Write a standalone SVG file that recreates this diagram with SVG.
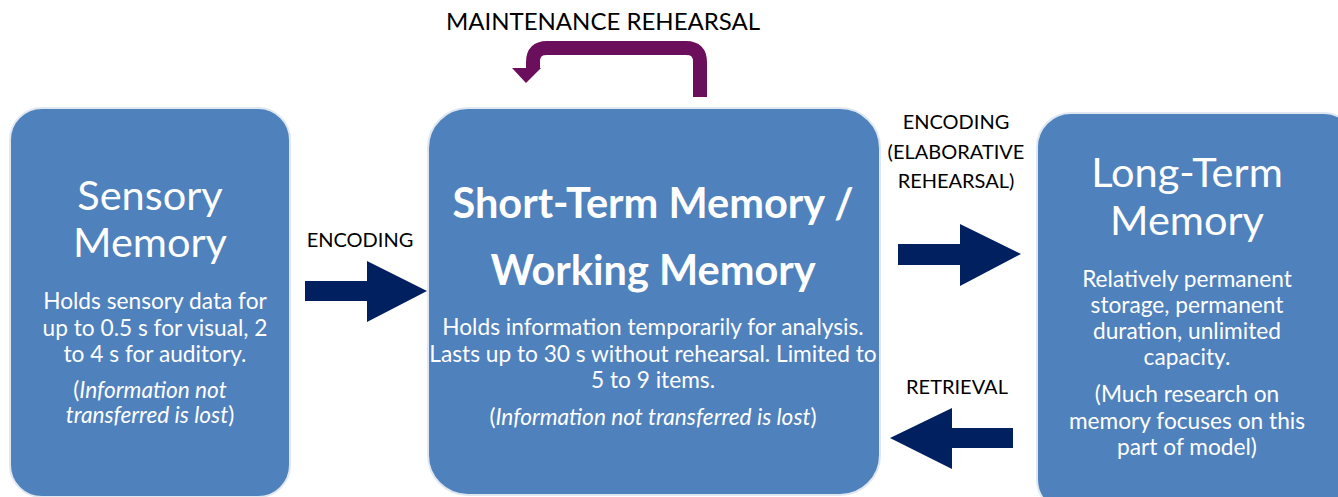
<svg xmlns="http://www.w3.org/2000/svg" width="1338" height="497" viewBox="0 0 1338 497">
<style>
.box{fill:#4F81BD;stroke:#dfe7f1;stroke-width:2}
.t{font-family:Lato,"Open Sans","Liberation Sans",sans-serif;text-anchor:middle}
.w{fill:#ffffff}
.k{fill:#000000}
.title{font-size:41.5px}
.body{font-size:22.7px}
.lbl{font-size:20px}
.arr{fill:#002060}
</style>
<rect width="1338" height="497" fill="#ffffff"/>
<g id="sensory">
<rect class="box" x="10" y="108" width="280" height="389" rx="32"/>
<text class="t w title" x="150" y="210">Sensory</text>
<text class="t w title" x="150" y="257">Memory</text>
<text class="t w body" x="155" y="309">Holds sensory data for</text>
<text class="t w body" x="155" y="336">up to 0.5 s for visual, 2</text>
<text class="t w body" x="155" y="362">to 4 s for auditory.</text>
<text class="t w body" x="150" y="398">(<tspan font-style="italic">Information not</tspan></text>
<text class="t w body" x="150" y="423"><tspan font-style="italic">transferred is lost</tspan>)</text>
</g>
<g id="stm">
<rect class="box" x="428" y="108" width="452" height="387" rx="40"/>
<text class="t w title" x="653" y="218" font-weight="bold" font-size="42.5">Short-Term Memory /</text>
<text class="t w title" x="653" y="285" font-weight="bold" font-size="42.5">Working Memory</text>
<text class="t w body" x="653" y="335">Holds information temporarily for analysis.</text>
<text class="t w body" x="653" y="362">Lasts up to 30 s without rehearsal. Limited to</text>
<text class="t w body" x="653" y="388">5 to 9 items.</text>
<text class="t w body" x="653" y="425">(<tspan font-style="italic">Information not transferred is lost</tspan>)</text>
</g>
<g id="ltm">
<rect class="box" x="1037" y="113" width="320" height="400" rx="34"/>
<text class="t w title" x="1187" y="187">Long-Term</text>
<text class="t w title" x="1187" y="235">Memory</text>
<text class="t w body" x="1187" y="287">Relatively permanent</text>
<text class="t w body" x="1187" y="313">storage, permanent</text>
<text class="t w body" x="1187" y="339">duration, unlimited</text>
<text class="t w body" x="1187" y="365">capacity.</text>
<text class="t w body" x="1187" y="402">(Much research on</text>
<text class="t w body" x="1187" y="429">memory focuses on this</text>
<text class="t w body" x="1187" y="455">part of model)</text>
</g>
<g id="connectors">
<path d="M700,97 L700,62 Q700,48 686,48 L547,48 Q533,48 533,62 L533,69" fill="none" stroke="#6B0E5C" stroke-width="14"/>
<polygon points="512,68 541,68 526,83" fill="#6B0E5C"/>
<text class="t k" x="603" y="30" font-size="24">MAINTENANCE REHEARSAL</text>
<polygon class="arr" points="305,281 367,281 367,261 427,291 367,322 367,301 305,301"/>
<text class="t k lbl" x="360" y="247">ENCODING</text>
<polygon class="arr" points="898,244 960,244 960,224 1021,254 960,286 960,265 898,265"/>
<text class="t k lbl" x="956" y="129">ENCODING</text>
<text class="t k lbl" x="956" y="159">(ELABORATIVE</text>
<text class="t k lbl" x="956" y="188">REHEARSAL)</text>
<polygon class="arr" points="1013,428 952,428 952,408 890,438 952,469 952,448 1013,448"/>
<text class="t k lbl" x="957" y="394">RETRIEVAL</text>
</g>
</svg>
